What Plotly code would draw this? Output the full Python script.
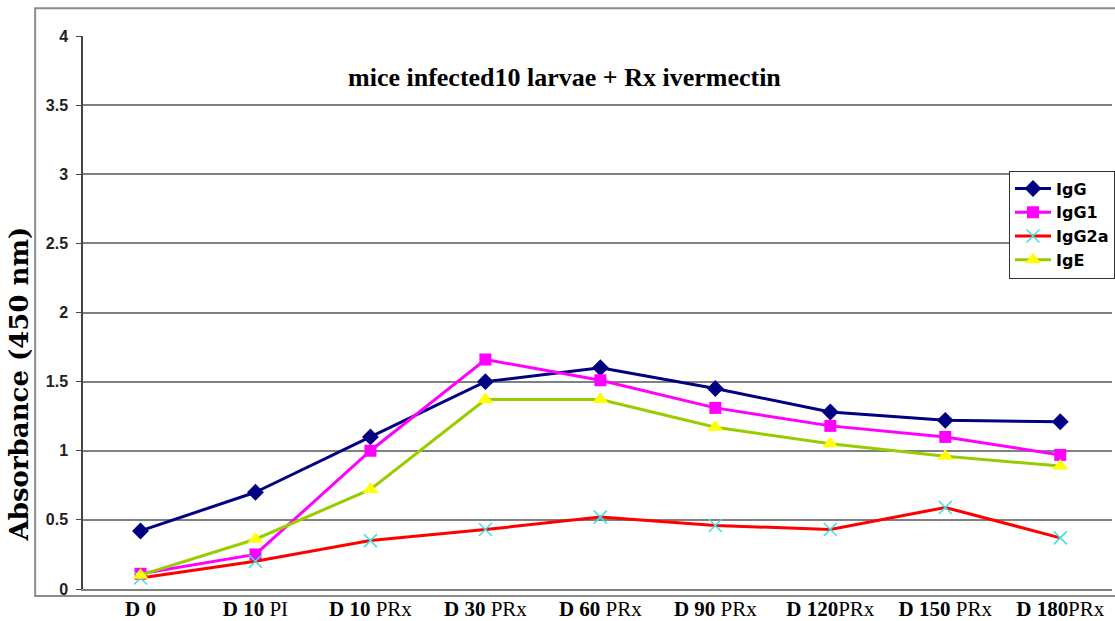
import plotly.graph_objects as go

# Sampling days (category axis) and their formatted tick labels
categories = ["D 0", "D 10 PI", "D 10 PRx", "D 30 PRx", "D 60 PRx",
              "D 90 PRx", "D 120PRx", "D 150 PRx", "D 180PRx"]
tick_labels = ["<b>D 0</b>", "<b>D 10</b> PI", "<b>D 10</b> PRx", "<b>D 30</b> PRx",
               "<b>D 60</b> PRx", "<b>D 90</b> PRx", "<b>D 120</b>PRx",
               "<b>D 150</b> PRx", "<b>D 180</b>PRx"]

# Absorbance axis ticks
y_ticks = [0, 0.5, 1, 1.5, 2, 2.5, 3, 3.5, 4]
y_tick_labels = ["0", "0.5", "1", "1.5", "2", "2.5", "3", "3.5", "4"]

# Absorbance at 450 nm for each antibody class
igg = [0.42, 0.70, 1.10, 1.50, 1.60, 1.45, 1.28, 1.22, 1.21]
igg1 = [0.11, 0.25, 1.00, 1.66, 1.51, 1.31, 1.18, 1.10, 0.97]
igg2a = [0.08, 0.20, 0.35, 0.43, 0.52, 0.46, 0.43, 0.59, 0.37]
ige = [0.10, 0.36, 0.72, 1.37, 1.37, 1.17, 1.05, 0.96, 0.89]

fig = go.Figure()
fig.add_trace(go.Scatter(
    x=categories, y=igg, name="IgG", mode="lines+markers",
    line=dict(color="#000080", width=3),
    marker=dict(symbol="diamond", size=13, color="#000080")))
fig.add_trace(go.Scatter(
    x=categories, y=igg1, name="IgG1", mode="lines+markers",
    line=dict(color="#FF00FF", width=3),
    marker=dict(symbol="square", size=12, color="#FF00FF")))
fig.add_trace(go.Scatter(
    x=categories, y=igg2a, name="IgG2a", mode="lines+markers",
    line=dict(color="#FF0000", width=3),
    marker=dict(symbol="x-thin", size=13, color="#40E0E0",
                line=dict(color="#40E0E0", width=1.5))))
fig.add_trace(go.Scatter(
    x=categories, y=ige, name="IgE", mode="lines+markers",
    line=dict(color="#99CC00", width=3),
    marker=dict(symbol="triangle-up", size=14, color="#FFFF00")))

PLOT_H = 621 - 36 - 26  # plot area height in px

fig.update_layout(
    width=1115, height=621,
    margin=dict(l=83, r=0, t=36, b=26),
    plot_bgcolor="white", paper_bgcolor="white",
    showlegend=True,
    legend=dict(
        x=0.9, y=(595 - 172) / PLOT_H, xanchor="left", yanchor="top",
        bgcolor="white", bordercolor="#333333", borderwidth=1,
        font=dict(family="DejaVu Sans", size=16, color="black", weight="bold"),
        itemwidth=36, tracegroupgap=0),
    annotations=[
        dict(text="<b>mice infected10 larvae + Rx ivermectin</b>",
             xref="paper", yref="paper", x=(566 - 83) / 1032, y=(595 - 78) / PLOT_H,
             xanchor="center", yanchor="middle", showarrow=False,
             font=dict(family="Liberation Serif, Times New Roman", size=26, color="black")),
        dict(text="<b>Absorbance (450 nm)</b>",
             xref="paper", yref="paper", x=(19 - 83) / 1032, y=(595 - 388) / PLOT_H,
             xanchor="center", yanchor="middle", showarrow=False, textangle=-90,
             font=dict(family="DejaVu Serif", size=26, color="black")),
    ],
    shapes=[
        # outer chart frame
        dict(type="rect", xref="paper", yref="paper",
             x0=(35 - 83) / 1032, x1=1.02, y0=(595 - 602) / PLOT_H, y1=(595 - 8) / PLOT_H,
             line=dict(color="#8c8c8c", width=2), fillcolor="rgba(0,0,0,0)", layer="below"),
    ],
)

fig.update_xaxes(
    type="category", range=[-0.5, 8.45],
    tickvals=categories, ticktext=tick_labels,
    showgrid=False, showline=True, linecolor="#808080", linewidth=2,
    ticks="", ticklabelstandoff=0,
    tickfont=dict(family="Liberation Serif, Times New Roman", size=21, color="black"))

fig.update_yaxes(
    range=[0, 4], tickvals=y_ticks, ticktext=y_tick_labels,
    showgrid=True, gridcolor="#808080", gridwidth=2,
    showline=True, linecolor="#444444", linewidth=1.5,
    ticks="outside", ticklen=5, tickcolor="#444444", tickwidth=1,
    zeroline=False, ticklabelstandoff=5,
    tickfont=dict(family="Liberation Sans, Arial", size=16, color="#222222", weight="bold"))

fig.write_html("out.html")
